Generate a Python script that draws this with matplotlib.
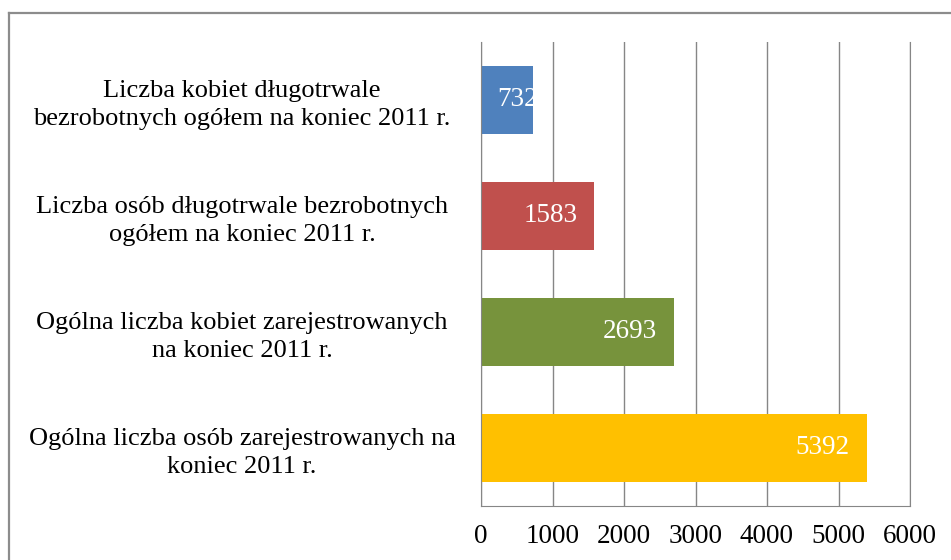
import matplotlib
matplotlib.use("Agg")
import matplotlib.pyplot as plt
from matplotlib.lines import Line2D

categories = [
    "Ogólna liczba osób zarejestrowanych na\nkoniec 2011 r.",
    "Ogólna liczba kobiet zarejestrowanych\nna koniec 2011 r.",
    "Liczba osób długotrwale bezrobotnych\nogółem na koniec 2011 r.",
    "Liczba kobiet długotrwale\nbezrobotnych ogółem na koniec 2011 r.",
]
values = [5392, 2693, 1583, 732]
colors = ["#FFC000", "#77933C", "#C0504D", "#4F81BD"]
xticks = [0, 1000, 2000, 3000, 4000, 5000, 6000]

plt.rcParams['font.family'] = ['Liberation Serif', 'DejaVu Serif']
DPI = 100
W, H = 951, 560
fig = plt.figure(figsize=(W / DPI, H / DPI), dpi=DPI)
ax = fig.add_axes([481 / W, 1 - 506 / H, (910 - 481) / W, (506 - 42) / H])

ypos = list(range(len(categories)))
bars = ax.barh(ypos, values, height=0.58, color=colors, zorder=3)
ax.set_xlim(0, 6000)
ax.set_ylim(-0.5, len(categories) - 0.5)
ax.set_xticks(xticks)
ax.set_xticklabels([str(t) for t in xticks], fontsize=19.5)
ax.set_yticks(ypos)
ax.set_yticklabels(categories, fontsize=19, ha='center', multialignment='center',
                   linespacing=1.35)
ax.tick_params(axis='y', length=0, pad=239 * 72 / DPI)
ax.tick_params(axis='x', length=0, pad=13)
ax.xaxis.grid(True, color='#868686', linewidth=1.0, zorder=0)
ax.spines['top'].set_visible(False)
for s in ['left', 'bottom', 'right']:
    ax.spines[s].set_color('#868686')
ax.spines['left'].set_zorder(4)

fig.canvas.draw()
r = fig.canvas.get_renderer()
px_per_unit = (910 - 481) / 6000.0
for b, v in zip(bars, values):
    yc = b.get_y() + b.get_height() / 2
    t = ax.text(v - 17 / px_per_unit, yc, str(v), color='white', fontsize=19.5,
                ha='right', va='center', zorder=5)
    tw = t.get_window_extent(r).width
    if v * px_per_unit < tw + 34:
        t.set_x(16 / px_per_unit)
        t.set_ha('left')
        t.set_clip_path(b)

# outer chart border (cropped at right and bottom)
fig.add_artist(Line2D([9 / W, 9 / W], [0, 1 - 13 / H], transform=fig.transFigure,
                      color='#8c8c8c', linewidth=1.6))
fig.add_artist(Line2D([9 / W, 1], [1 - 13 / H, 1 - 13 / H], transform=fig.transFigure,
                      color='#8c8c8c', linewidth=1.6))

fig.savefig("out.png", dpi=DPI)
